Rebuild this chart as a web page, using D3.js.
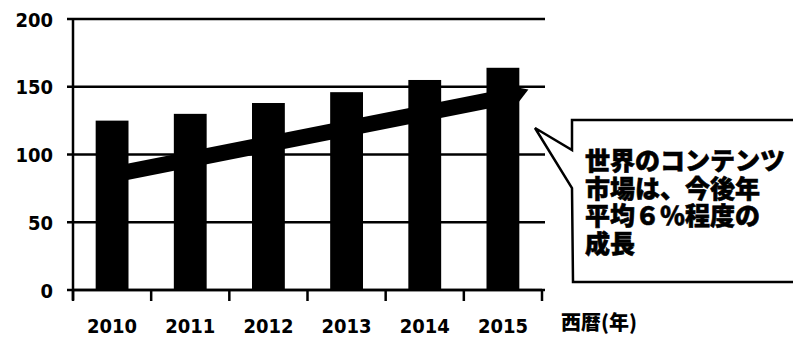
<!DOCTYPE html>
<html>
<head>
<meta charset="utf-8">
<script src="https://cdn.jsdelivr.net/npm/d3@7"></script>
<style>
body { margin: 0; background: #fff; }
svg { display: block; }
</style>
</head>
<body>
<svg width="793" height="339"></svg>
<script>
// data
var years = ["2010", "2011", "2012", "2013", "2014", "2015"];
var values = [125, 130, 138, 146, 155, 164];
var trendYears = ["2010", "2015"];
var trendValues = [85, 142];
var yTicks = [0, 50, 100, 150, 200];
var calloutLines = ["世界のコンテンツ", "市場は、今後年", "平均６％程度の", "成長"];
var xTitle = "西暦(年)";

var svg = d3.select("svg");

var plotLeft = 73, plotRight = 542, plotTop = 19, plotBottom = 290;

var xScale = d3.scaleBand().domain(years).range([plotLeft, plotRight])
    .paddingInner(0.58).paddingOuter(0.29);
var yScale = d3.scaleLinear().domain([0, 200]).range([plotBottom, plotTop]);

var numFont = "'DejaVu Sans Condensed', 'DejaVu Sans', sans-serif";
var jpFont = "'Noto Sans CJK JP', sans-serif";

// gridlines
svg.append("g")
    .selectAll("line")
    .data(yTicks)
    .enter()
    .append("line")
    .attr("x1", plotLeft - 6)
    .attr("x2", plotRight + 3)
    .attr("y1", function (d) { return yScale(d); })
    .attr("y2", function (d) { return yScale(d); })
    .attr("stroke", "#000")
    .attr("stroke-width", 2.5);

// y labels
svg.append("g")
    .selectAll("text")
    .data(yTicks)
    .enter()
    .append("text")
    .attr("x", 53)
    .attr("y", function (d) { return yScale(d) + 7.5; })
    .attr("text-anchor", "end")
    .attr("font-family", numFont)
    .attr("font-weight", "bold")
    .attr("font-size", "20px")
    .text(function (d) { return d; });

// bars
svg.append("g")
    .selectAll("rect")
    .data(values)
    .enter()
    .append("rect")
    .attr("x", function (d, i) { return xScale(years[i]); })
    .attr("y", function (d) { return yScale(d); })
    .attr("width", xScale.bandwidth())
    .attr("height", function (d) { return plotBottom - yScale(d); })
    .attr("fill", "#000");

// axis lines
svg.append("line")
    .attr("x1", plotLeft).attr("x2", plotLeft)
    .attr("y1", plotTop).attr("y2", plotBottom + 10)
    .attr("stroke", "#000").attr("stroke-width", 2.5);
svg.append("line")
    .attr("x1", plotLeft).attr("x2", plotRight)
    .attr("y1", plotBottom).attr("y2", plotBottom)
    .attr("stroke", "#000").attr("stroke-width", 2.5);

// x ticks at band edges
var edges = years.map(function (y) { return xScale(y) - xScale.step() * xScale.paddingInner() / 2; });
edges.push(plotRight);
svg.append("g")
    .selectAll("line")
    .data(edges)
    .enter()
    .append("line")
    .attr("x1", function (d) { return d; })
    .attr("x2", function (d) { return d; })
    .attr("y1", plotBottom)
    .attr("y2", plotBottom + 11)
    .attr("stroke", "#000")
    .attr("stroke-width", 2.5);

// x labels
svg.append("g")
    .selectAll("text")
    .data(years)
    .enter()
    .append("text")
    .attr("x", function (d) { return xScale(d) + xScale.bandwidth() / 2; })
    .attr("y", 333)
    .attr("text-anchor", "middle")
    .attr("font-family", numFont)
    .attr("font-weight", "bold")
    .attr("font-size", "20px")
    .text(function (d) { return d; });

svg.append("text")
    .attr("x", 561)
    .attr("y", 330)
    .attr("font-family", jpFont)
    .attr("font-weight", 900)
    .attr("font-size", "20px")
    .text(xTitle);

// trend arrow (thick line over the bars)
var x0 = xScale(trendYears[0]) + xScale.bandwidth() / 2,
    y0 = yScale(trendValues[0]),
    x1 = xScale(trendYears[1]) + xScale.bandwidth() / 2,
    y1 = yScale(trendValues[1]);
var dx = x1 - x0, dy = y1 - y0, len = Math.sqrt(dx * dx + dy * dy);
var ux = dx / len, uy = dy / len, nx = -uy, ny = ux;
var ext = 14, half = 8, tip = 12;
var ex = x1 + ux * ext, ey = y1 + uy * ext;
var pts = [
    [x0 + nx * half, y0 + ny * half],
    [ex + nx * half, ey + ny * half],
    [ex + ux * tip, ey + uy * tip - 3],
    [ex - nx * half, ey - ny * half],
    [x0 - nx * half, y0 - ny * half]
];
svg.append("path")
    .attr("d", d3.line()(pts) + "Z")
    .attr("fill", "#000");

// callout
var callout = [[572, 120], [572, 150], [535, 128], [572, 188], [573, 282], [800, 282], [800, 120]];
svg.append("path")
    .attr("d", d3.line()(callout) + "Z")
    .attr("fill", "#fff")
    .attr("stroke", "#000")
    .attr("stroke-width", 2.5);

svg.append("g")
    .selectAll("text")
    .data(calloutLines)
    .enter()
    .append("text")
    .attr("x", 585)
    .attr("y", function (d, i) { return 170 + i * 27.5; })
    .attr("font-family", jpFont)
    .attr("font-weight", 900)
    .attr("font-size", "25px")
    .attr("stroke", "#000")
    .attr("stroke-width", 0.6)
    .text(function (d) { return d; });
</script>
</body>
</html>
